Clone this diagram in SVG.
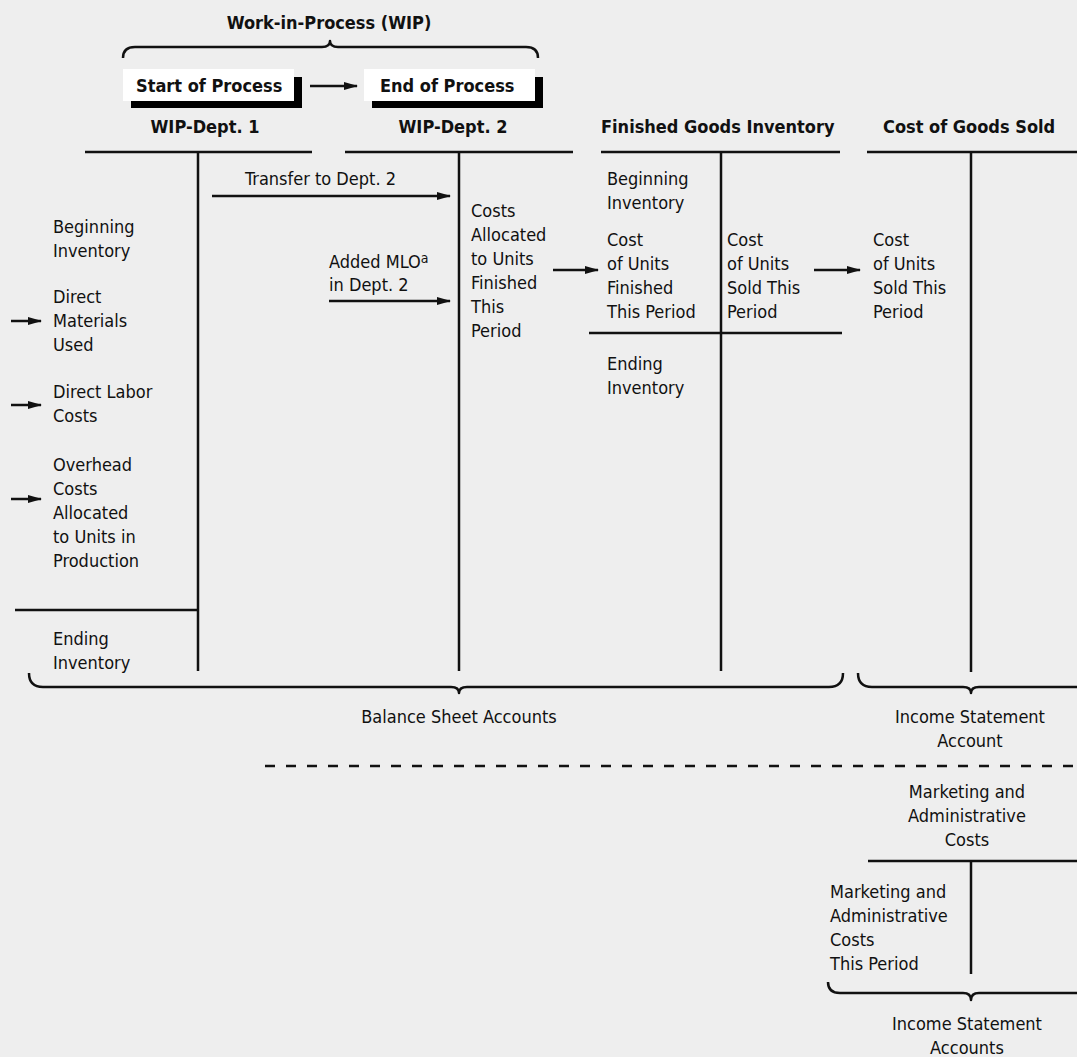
<svg xmlns="http://www.w3.org/2000/svg" width="1077" height="1057" viewBox="0 0 1077 1057">
<style>
text{font-family:"DejaVu Sans Condensed","DejaVu Sans","Liberation Sans",sans-serif;font-stretch:condensed;font-size:18px;fill:#111}
.b{font-weight:bold;font-size:18px}
.m{text-anchor:middle}
.ln{stroke:#111;stroke-width:2.5;fill:none}
.br{stroke:#111;stroke-width:2.5;fill:none;stroke-linejoin:round}
.ar{stroke:#111;stroke-width:2.5;fill:none;marker-end:url(#ah)}
</style>
<defs>
<marker id="ah" markerWidth="14" markerHeight="8" refX="13" refY="4" orient="auto" markerUnits="userSpaceOnUse">
<path d="M0,0 L14,4 L0,8 Z" fill="#111"/>
</marker>
</defs>
<rect width="1077" height="1057" fill="#eeeeee"/>

<g id="wip-header">
<text class="b m" x="329" y="29">Work-in-Process (WIP)</text>
<path class="br" d="M123,58 Q123,47 135,47 L322,47 Q330,47 330,41 Q330,47 338,47 L526,47 Q538,47 538,58"/>
</g>

<g id="start-box">
<rect x="131" y="77" width="171" height="31" fill="#000"/>
<rect x="123" y="69" width="171" height="32" fill="#fff"/>
<text class="b" x="136" y="92">Start of Process</text>
</g>
<g id="end-box">
<rect x="372" y="77" width="171" height="31" fill="#000"/>
<rect x="364" y="69" width="171" height="32" fill="#fff"/>
<text class="b" x="380" y="92">End of Process</text>
</g>

<g id="wip-dept1">
<text class="b m" x="205" y="133">WIP-Dept. 1</text>
<line class="ln" x1="85" y1="152" x2="312" y2="152"/>
<line class="ln" x1="198" y1="152" x2="198" y2="671"/>
<line class="ln" x1="15" y1="610" x2="198" y2="610"/>
<text x="53" y="233">Beginning</text>
<text x="53" y="257">Inventory</text>
<text x="53" y="303">Direct</text>
<text x="53" y="327">Materials</text>
<text x="53" y="351">Used</text>
<text x="53" y="398">Direct Labor</text>
<text x="53" y="422">Costs</text>
<text x="53" y="471">Overhead</text>
<text x="53" y="495">Costs</text>
<text x="53" y="519">Allocated</text>
<text x="53" y="543">to Units in</text>
<text x="53" y="567">Production</text>
<text x="53" y="645">Ending</text>
<text x="53" y="669">Inventory</text>
</g>

<g id="wip-dept2">
<text class="b m" x="453" y="133">WIP-Dept. 2</text>
<line class="ln" x1="345" y1="152" x2="573" y2="152"/>
<line class="ln" x1="459" y1="152" x2="459" y2="671"/>
<text x="471" y="217">Costs</text>
<text x="471" y="241">Allocated</text>
<text x="471" y="265">to Units</text>
<text x="471" y="289">Finished</text>
<text x="471" y="313">This</text>
<text x="471" y="337">Period</text>
</g>

<g id="finished-goods">
<text class="b" x="601" y="133">Finished Goods Inventory</text>
<line class="ln" x1="601" y1="152" x2="840" y2="152"/>
<line class="ln" x1="721" y1="152" x2="721" y2="671"/>
<line class="ln" x1="589" y1="333" x2="842" y2="333"/>
<text x="607" y="185">Beginning</text>
<text x="607" y="209">Inventory</text>
<text x="607" y="246">Cost</text>
<text x="607" y="270">of Units</text>
<text x="607" y="294">Finished</text>
<text x="607" y="318">This Period</text>
<text x="607" y="370">Ending</text>
<text x="607" y="394">Inventory</text>
<text x="727" y="246">Cost</text>
<text x="727" y="270">of Units</text>
<text x="727" y="294">Sold This</text>
<text x="727" y="318">Period</text>
</g>

<g id="cogs">
<text class="b" x="883" y="133">Cost of Goods Sold</text>
<line class="ln" x1="867" y1="152" x2="1077" y2="152"/>
<line class="ln" x1="971" y1="152" x2="971" y2="672"/>
<text x="873" y="246">Cost</text>
<text x="873" y="270">of Units</text>
<text x="873" y="294">Sold This</text>
<text x="873" y="318">Period</text>
</g>

<g id="balance-sheet-brace">
<path class="br" d="M29,673 Q29,687 43,687 L451,687 Q459,687 459,693 Q459,687 467,687 L829,687 Q843,687 843,673"/>
<text class="m" x="459" y="723">Balance Sheet Accounts</text>
</g>

<g id="income-statement-brace">
<path class="br" d="M858,673 Q858,687 872,687 L963,687 Q971,687 971,693 Q971,687 979,687 L1080,687"/>
<text class="m" x="970" y="723">Income Statement</text>
<text class="m" x="970" y="747">Account</text>
</g>

<g id="divider">
<line x1="265" y1="766" x2="1077" y2="766" stroke="#111" stroke-width="2.5" stroke-dasharray="10 11"/>
</g>

<g id="marketing-admin">
<text class="m" x="967" y="798">Marketing and</text>
<text class="m" x="967" y="822">Administrative</text>
<text class="m" x="967" y="846">Costs</text>
<line class="ln" x1="868" y1="861" x2="1077" y2="861"/>
<line class="ln" x1="971" y1="861" x2="971" y2="974"/>
<text x="830" y="898">Marketing and</text>
<text x="830" y="922">Administrative</text>
<text x="830" y="946">Costs</text>
<text x="830" y="970">This Period</text>
<path class="br" d="M828,982 Q828,993 840,993 L963,993 Q971,993 971,1000 Q971,993 979,993 L1080,993"/>
<text class="m" x="967" y="1030">Income Statement</text>
<text class="m" x="967" y="1054">Accounts</text>
</g>

<g id="connectors">
<line class="ar" x1="310" y1="86" x2="357" y2="86"/>
<line class="ar" x1="212" y1="196" x2="450" y2="196"/>
<text x="245" y="185">Transfer to Dept. 2</text>
<text x="329" y="268">Added MLO<tspan font-size="14" dy="-5">a</tspan></text>
<text x="329" y="291">in Dept. 2</text>
<line class="ar" x1="329" y1="301" x2="450" y2="301"/>
<line class="ar" x1="11" y1="321" x2="41" y2="321"/>
<line class="ar" x1="11" y1="405" x2="41" y2="405"/>
<line class="ar" x1="11" y1="499" x2="41" y2="499"/>
<line class="ar" x1="553" y1="270" x2="598" y2="270"/>
<line class="ar" x1="814" y1="270" x2="860" y2="270"/>
</g>
</svg>
